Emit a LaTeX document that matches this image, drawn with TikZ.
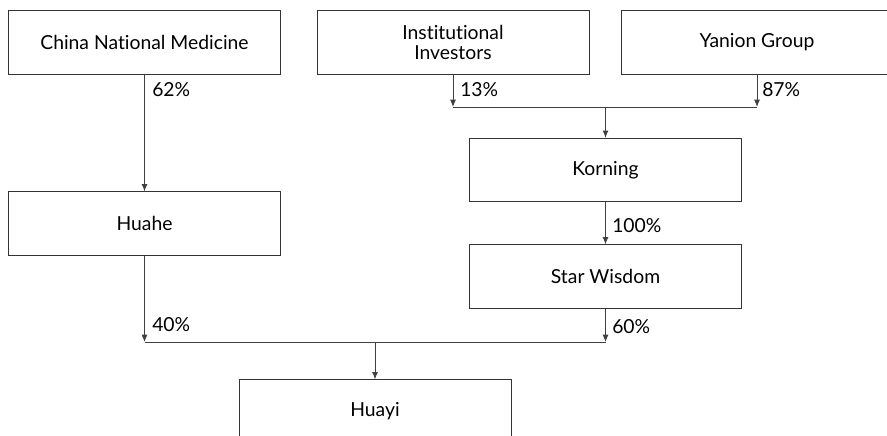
\documentclass[tikz,border=0pt]{standalone}
\usepackage{fontspec}
\setmainfont{Lato}[Ligatures=NoCommon]
\usetikzlibrary{arrows.meta}

\begin{document}
\begin{tikzpicture}[x=0.75pt,y=-0.75pt,
            firm/.style={rectangle, draw=black!80, line width=0.7pt, minimum width=204pt, minimum height=47.5pt, inner sep=2pt, align=center, font=\fontsize{14.5}{14.5}\selectfont},
            share/.style={anchor=west, inner sep=0pt, font=\fontsize{14.5}{16}\selectfont},
            owns/.style={draw=black!75, line width=0.7pt, -{Latex[length=5.5pt,width=4.5pt]}},
            link/.style={draw=black!75, line width=0.7pt}
            ]
            \useasboundingbox (0,0) rectangle (887,435);

            \node[firm] (cnm) at (144.5,42.5) {China National Medicine};
            \node[firm] (inst) at (453,42.5) {Institutional\\Investors};
            \node[firm] (yan) at (757,42.5) {Yanion Group};
            \node[firm] (korning) at (605.5,170) {Korning};
            \node[firm] (huahe) at (144.5,223.5) {Huahe};
            \node[firm] (star) at (605.5,276.5) {Star Wisdom};
            \node[firm] (huayi) at (375,411.5) {Huayi};

            \coordinate (j1) at (453,107);
            \coordinate (j2) at (757,107);
            \coordinate (j3) at (605.5,107);
            \coordinate (j4) at (144.5,342);
            \coordinate (j5) at (605.5,342);
            \coordinate (j6) at (375,342);

            \draw[owns] (cnm.south) -- (huahe.north);
            \draw[owns] (inst.south) -- (j1);
            \draw[owns] (yan.south) -- (j2);
            \draw[link] (j1) -- (j2);
            \draw[owns] (j3) -- (korning.north);
            \draw[owns] (korning.south) -- (star.north);
            \draw[owns] (huahe.south) -- (j4);
            \draw[owns] (star.south) -- (j5);
            \draw[link] (j4) -- (j5);
            \draw[owns] (j6) -- (huayi.north);

            \node[share] (p62) at (152,90) {62\%};
            \node[share] (p13) at (460,90) {13\%};
            \node[share] (p87) at (762,90) {87\%};
            \node[share] (p100) at (612,226) {100\%};
            \node[share] (p40) at (152,325) {40\%};
            \node[share] (p60) at (612,327) {60\%};

\end{tikzpicture}
\end{document}
